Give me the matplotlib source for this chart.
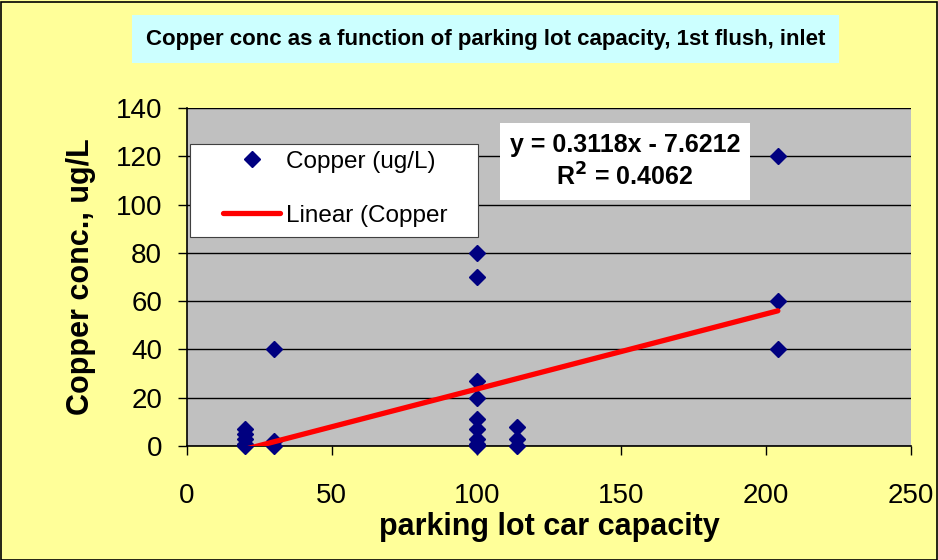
import matplotlib.pyplot as plt
from matplotlib.patches import Rectangle
from matplotlib.lines import Line2D
import numpy as np

plt.rcParams['font.family'] = ['Liberation Sans', 'DejaVu Sans']

# parking lot capacity (cars) and copper concentration (ug/L)
capacity = [20, 20, 20, 20, 20,
            30, 30, 30,
            100, 100, 100, 100, 100, 100, 100, 100, 100,
            114, 114, 114,
            204, 204, 204]
copper = [7, 5, 3, 1, 0,
          40, 2, 0,
          80, 70, 27, 20, 11, 7, 3, 1, 0,
          8, 3, 0,
          120, 60, 40]

# trendline coefficients shown in the equation label
slope = 0.3118
intercept = -7.6212
r_squared = 0.4062

x_ticks = [0, 50, 100, 150, 200, 250]
y_ticks = [0, 20, 40, 60, 80, 100, 120, 140]

fig = plt.figure(figsize=(9.38, 5.6), dpi=100)
fig.patch.set_facecolor('#FFFF99')
fig.patches.append(Rectangle((0.001, 0.0), 0.998, 0.997, transform=fig.transFigure,
                             fill=False, edgecolor='black', linewidth=1.2))

ax = fig.add_axes([0.1994, 0.2036, 0.7719, 0.6036])
ax.set_facecolor('#C0C0C0')
ax.set_xlim(0, 250)
ax.set_ylim(0, 140)
ax.set_xticks(x_ticks)
ax.set_yticks(y_ticks)
ax.tick_params(labelsize=20, length=6.5, width=1, direction='out')
ax.tick_params(axis='x', pad=20)
ax.tick_params(axis='y', pad=11.5)
ax.yaxis.grid(True, color='black', linewidth=1)
ax.set_axisbelow(True)
for side in ['top', 'right']:
    ax.spines[side].set_visible(False)
for side in ['left', 'bottom']:
    ax.spines[side].set_linewidth(1.2)

ax.plot(capacity, copper, linestyle='none', marker='D', markersize=8.5,
        color='#000080', zorder=3, clip_on=False)

fit_x = np.array([min(capacity), max(capacity)])
ax.plot(fit_x, slope * fit_x + intercept, color='red', linewidth=3.8,
        solid_capstyle='round', zorder=4)

ax.set_xlabel('parking lot car capacity', fontsize=22, fontweight='bold', labelpad=2)
ax.set_ylabel('Copper conc., ug/L', fontsize=22, fontweight='bold', labelpad=14)

fig.text(0.5176, 0.930, 'Copper conc as a function of parking lot capacity, 1st flush, inlet',
         ha='center', va='center', fontsize=16, fontweight='bold',
         bbox=dict(boxstyle='square,pad=0.6', facecolor='#CCFFFF', edgecolor='none'))

fig.text(0.6663, 0.7116,
         'y = %.4fx - %.4f\nR$^\\mathbf{2}$ = %.4f' % (slope, -intercept, r_squared),
         ha='center', va='center', fontsize=18, fontweight='bold', linespacing=1.3,
         bbox=dict(boxstyle='square,pad=0.4', facecolor='white', edgecolor='none'))

# legend frame drawn separately so the entries can sit freely inside it
ax.add_patch(Rectangle((0.0041, 0.618), 0.398, 0.275, transform=ax.transAxes,
                       facecolor='white', edgecolor='#404040', linewidth=0.8, zorder=5))
handles = [Line2D([], [], linestyle='none', marker='D', markersize=8, color='#000080'),
           Line2D([], [], color='red', linewidth=3.8, solid_capstyle='round')]
leg = ax.legend(handles, ['Copper (ug/L)', 'Linear (Copper'], loc='upper left',
                bbox_to_anchor=(0.0497, 0.873), fontsize=17.5, frameon=False,
                handlelength=2.35, labelspacing=1.3, borderpad=0, borderaxespad=0,
                handletextpad=0.25)
leg.set_zorder(6)

fig.savefig('out.png', dpi=100, facecolor=fig.get_facecolor())
